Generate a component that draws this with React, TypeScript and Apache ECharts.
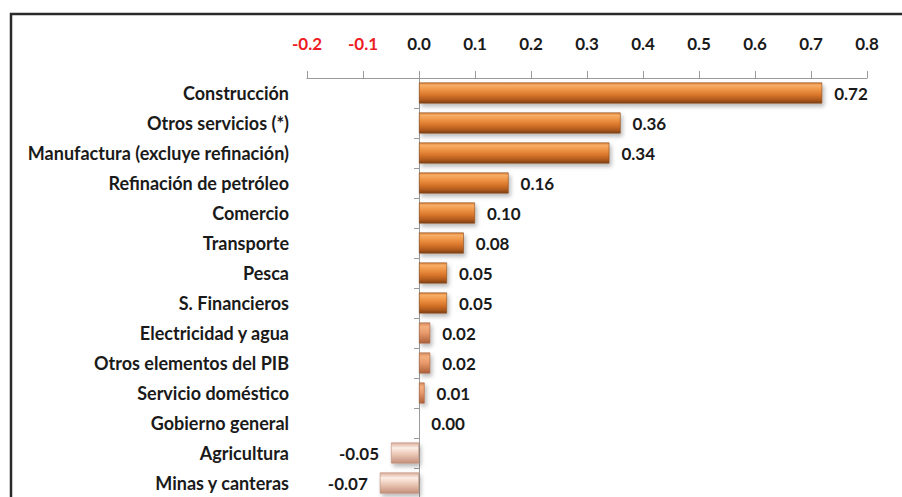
import React, { useEffect, useRef } from "react";
import * as echarts from "echarts";

const categories = [
  "Construcción",
  "Otros servicios (*)",
  "Manufactura (excluye refinación)",
  "Refinación de petróleo",
  "Comercio",
  "Transporte",
  "Pesca",
  "S. Financieros",
  "Electricidad y agua",
  "Otros elementos del PIB",
  "Servicio doméstico",
  "Gobierno general",
  "Agricultura",
  "Minas y canteras",
];
const values = [0.72, 0.36, 0.34, 0.16, 0.1, 0.08, 0.05, 0.05, 0.02, 0.02, 0.01, 0.0, -0.05, -0.07];
const axisMin = -0.2;
const axisMax = 0.8;
const axisStep = 0.1;

const FONT = "Lato, 'Open Sans', sans-serif";

const orangeGrad = () =>
  new echarts.graphic.LinearGradient(0, 0, 0, 1, [
    { offset: 0, color: "#dc8238" },
    { offset: 0.12, color: "#f7ae68" },
    { offset: 0.3, color: "#f29a4a" },
    { offset: 0.6, color: "#d8752a" },
    { offset: 0.85, color: "#ab571c" },
    { offset: 1, color: "#7a3e14" },
  ]);
const smallGrad = () =>
  new echarts.graphic.LinearGradient(0, 0, 0, 1, [
    { offset: 0, color: "#d68a5c" },
    { offset: 0.2, color: "#f4b080" },
    { offset: 0.5, color: "#e8996a" },
    { offset: 1, color: "#ad603a" },
  ]);
const negGrad = () =>
  new echarts.graphic.LinearGradient(0, 0, 0, 1, [
    { offset: 0, color: "#dcae98" },
    { offset: 0.25, color: "#fbeee6" },
    { offset: 0.5, color: "#f0cfbe" },
    { offset: 1, color: "#c4907a" },
  ]);

export default function App() {
  const ref = useRef<HTMLDivElement>(null);
  useEffect(() => {
    if (!ref.current) return;
    const chart = echarts.init(ref.current, undefined, { renderer: "svg" });
    const data = values.map((v) => {
      const neg = v < 0;
      const small = v >= 0 && v <= 0.02;
      return {
        value: v,
        itemStyle: {
          color: neg ? negGrad() : small ? smallGrad() : orangeGrad(),
          borderColor: neg ? "#b88a76" : small ? "#a0603e" : "#8a4a1c",
          borderWidth: 0.6,
          shadowColor: "rgba(0,0,0,0.28)",
          shadowBlur: 4,
          shadowOffsetX: 2,
          shadowOffsetY: 3,
        },
        label: {
          position: neg ? "left" : "right",
        },
      };
    });
    chart.setOption({
      animation: false,
      backgroundColor: "#ffffff",
      grid: {
        left: 307,
        right: 35,
        top: 78,
        height: 420,
        containLabel: false,
        outerBoundsMode: "none",
      },
      xAxis: {
        type: "value",
        position: "top",
        min: axisMin,
        max: axisMax,
        interval: axisStep,
        splitLine: { show: false },
        axisLine: { show: true, lineStyle: { color: "#9a9a9a", width: 1 } },
        axisTick: { show: true, length: 7, lineStyle: { color: "#9a9a9a" } },
        axisLabel: {
          margin: 26,
          fontFamily: FONT,
          fontWeight: "bold",
          fontSize: 17,
          formatter: (v: number) => v.toFixed(1),
          color: (v: any) => (Number(v) < 0 ? "#ee1c25" : "#1a1a1a"),
        },
      },
      yAxis: {
        type: "category",
        inverse: true,
        data: categories,
        axisLine: { show: true, onZero: true, lineStyle: { color: "#9a9a9a", width: 1 } },
        axisTick: { show: true, length: 5, lineStyle: { color: "#9a9a9a" } },
        axisLabel: {
          margin: 18,
          fontFamily: FONT,
          fontWeight: "bold",
          fontSize: 18,
          color: "#1a1a1a",
        },
      },
      series: [
        {
          type: "bar",
          data,
          barWidth: 21,
          label: {
            show: true,
            distance: 12,
            fontFamily: FONT,
            fontWeight: "bold",
            fontSize: 17,
            color: "#1a1a1a",
            formatter: (p: any) => Number(p.value).toFixed(2),
          },
        },
      ],
      graphic: [
        {
          type: "rect",
          shape: { x: 11, y: 14, width: 1000, height: 1000 },
          style: { fill: "none", stroke: "#2a2a2a", lineWidth: 2.5 },
          silent: true,
          z: 100,
        },
      ],
    });
    return () => chart.dispose();
  }, []);
  return (
    <div
      ref={ref}
      style={{ position: "fixed", left: 0, top: 0, width: 902, height: 497, background: "#fff" }}
    />
  );
}
